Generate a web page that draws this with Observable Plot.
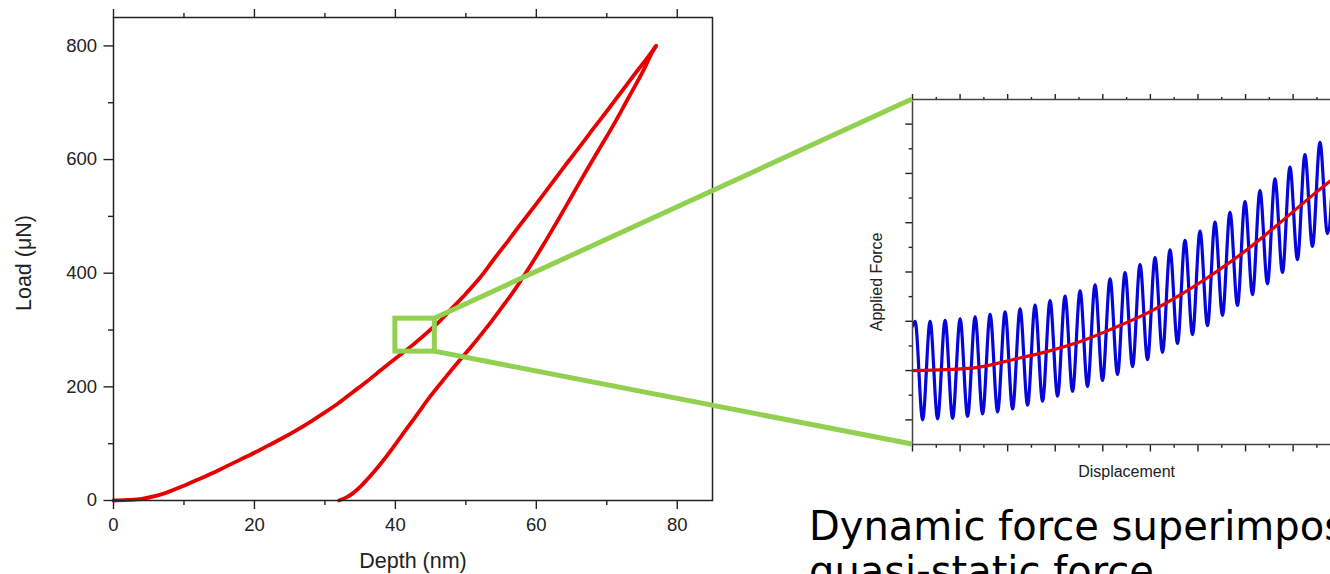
<!DOCTYPE html>
<html><head><meta charset="utf-8">
<script src="https://cdn.jsdelivr.net/npm/d3@7"></script>
<script src="https://cdn.jsdelivr.net/npm/@observablehq/plot@0.6"></script>
<style>
html,body{margin:0;padding:0;overflow:hidden;background:#fff;}
#stage{position:relative;width:1330px;height:574px;overflow:hidden;background:#fff;}
#left,#right,#overlay,#caption{position:absolute;}
#left{left:0;top:0;width:730px;height:574px}
#right{left:820px;top:0;width:560px;height:574px}
#left svg,#right svg{max-width:none !important;}
#overlay{left:0;top:0;pointer-events:none}
#caption{left:809px;top:504px;font-family:"DejaVu Sans",Verdana,sans-serif;font-size:40px;line-height:45px;white-space:nowrap;color:#000}
</style></head><body>
<div id="stage"><div id="left"></div><div id="right"></div><svg id="overlay" width="1330" height="574"></svg><div id="caption">Dynamic force superimposed on<br>quasi-static force</div></div>
<script>
// ---- Left chart: load-depth curve ----
const loadDepth = [0,2,4,6,8,10,12,14,16,18,20,22,24,26,28,30,32,34,36,38,40,42,44,46,48,50,52,54,56,58,60,62,64,66,68,70,72,74,76,77];
const loadForce = [0,1,3,8,16,26,37,48,60,72,84,97,110,124,139,155,172,191,210,230,250,269,290,312,338,364,392,425,457,490,522,555,588,620,653,685,718,751,783,800];
const unloadDepth = [77,76.5,75,73,71,69,67,65,63,61,59,57,55,53,51,49,47,45,43,41,39,38,37,36,35,34,33,32];
const unloadForce = [800,790,752,707,662,620,578,535,492,450,410,372,338,305,274,245,215,184,150,116,82,66,51,37,24,13,5,0];
const depthDomain = [0,85];
const loadDomain = [0,850];
const depthMajor = [0,20,40,60,80];
const depthMinor = [10,30,50,70];
const loadMajor = [0,200,400,600,800];
const loadMinor = [100,300,500,700];
const zoomDepth = [40,45.6];
const zoomLoad = [262,320];

// ---- Right chart: dynamic + quasi-static force ----
const dispDomain = [0,9.5];
const forceDomain = [-0.5,6.5];
const dispMajor = [0,1,2,3,4,5,6,7,8,9];
const dispMinor = [0.5,1.5,2.5,3.5,4.5,5.5,6.5,7.5,8.5];
const forceMajor = [0,1,2,3,4,5,6];
const forceMinor = [0.5,1.5,2.5,3.5,4.5,5.5];
const quasiX = [0,0.7,1.4,2.1,2.8,3.5,4.2,4.9,5.6,6.3,7.0,7.7,8.4,9.1,9.8];
const quasiF = [1.0,1.02,1.07,1.22,1.38,1.58,1.85,2.15,2.52,2.95,3.43,3.98,4.55,5.1,5.7];
const startX = [0];
const startF = [1.9];
const peakX = [0.055,0.370,0.685,1.001,1.316,1.631,1.946,2.261,2.576,2.891,3.206,3.522,3.837,4.152,4.467,4.782,5.097,5.412,5.727,6.043,6.358,6.673,6.988,7.303,7.618,7.933,8.248,8.564,8.879];
const peakF = [2.00,2.00,2.02,2.05,2.09,2.14,2.19,2.25,2.33,2.42,2.51,2.62,2.74,2.86,2.99,3.15,3.29,3.45,3.64,3.83,4.01,4.21,4.43,4.65,4.89,5.13,5.38,5.63,5.9];
const troughX = [0.213,0.528,0.843,1.158,1.473,1.789,2.104,2.419,2.734,3.049,3.364,3.679,3.994,4.309,4.625,4.940,5.255,5.570,5.885,6.200,6.515,6.830,7.146,7.461,7.776,8.091,8.406,8.721];
const troughF = [0.00,0.02,0.03,0.07,0.12,0.16,0.22,0.30,0.38,0.48,0.58,0.68,0.80,0.92,1.08,1.22,1.37,1.55,1.73,1.91,2.12,2.32,2.54,2.76,2.99,3.25,3.52,3.78];

const RED = "#e60000", BLUE = "#0505dc", GREEN = "#92d050", INK = "#222";
const SANS = '"Liberation Sans", Arial, Helvetica, sans-serif';
const blank = () => "";

const loading = loadDepth.map((d, i) => ({depth: d, load: loadForce[i]}));
const unloading = unloadDepth.map((d, i) => ({depth: d, load: unloadForce[i]}));
const zoomBox = [{x1: zoomDepth[0], x2: zoomDepth[1], y1: zoomLoad[0], y2: zoomLoad[1]}];

const left = Plot.plot({
  width: 730, height: 574,
  marginLeft: 113, marginRight: 18, marginTop: 17, marginBottom: 74,
  x: {domain: depthDomain},
  y: {domain: loadDomain},
  style: {fontFamily: SANS, fontSize: "18.5px", color: INK, background: "transparent", overflow: "visible", maxWidth: "none"},
  marks: [
    Plot.line(loading, {x: "depth", y: "load", stroke: RED, strokeWidth: 3.8, curve: "catmull-rom"}),
    Plot.line(unloading, {x: "depth", y: "load", stroke: RED, strokeWidth: 3.8, curve: "catmull-rom"}),
    Plot.axisX({ticks: depthMajor, anchor: "bottom", tickSize: 9, tickPadding: 8, label: null, strokeWidth: 1.4}),
    Plot.axisX({ticks: depthMinor, anchor: "bottom", tickSize: 5, tickFormat: blank, label: null, strokeWidth: 1.4}),
    Plot.axisX({ticks: depthMajor, anchor: "top", tickSize: 9, tickFormat: blank, label: null, strokeWidth: 1.4}),
    Plot.axisX({ticks: depthMinor, anchor: "top", tickSize: 5, tickFormat: blank, label: null, strokeWidth: 1.4}),
    Plot.axisY({ticks: loadMajor, anchor: "left", tickSize: 9.5, tickPadding: 7, label: null, strokeWidth: 1.4}),
    Plot.axisY({ticks: loadMinor, anchor: "left", tickSize: 5, tickFormat: blank, label: null, strokeWidth: 1.4}),
    Plot.frame({stroke: INK, strokeWidth: 1.5}),
    Plot.rect(zoomBox, {x1: "x1", x2: "x2", y1: "y1", y2: "y2", fill: "none", stroke: GREEN, strokeWidth: 5}),
    Plot.text(["Depth (nm)"], {frameAnchor: "bottom", dy: 67, lineAnchor: "bottom", textAnchor: "middle", fontSize: 21.5, fill: INK}),
    Plot.text(["Load (μN)"], {frameAnchor: "left", dx: -83, dy: 4, rotate: -90, lineAnchor: "bottom", textAnchor: "middle", fontSize: 21.5, fill: INK})
  ]
});
document.getElementById("left").appendChild(left);

// right chart data tables
const quasi = quasiX.map((x, i) => ({x, f: quasiF[i]}));
const dynamic = []
  .concat(startX.map((x, i) => ({x, f: startF[i]})))
  .concat(peakX.map((x, i) => ({x, f: peakF[i]})))
  .concat(troughX.map((x, i) => ({x, f: troughF[i]})))
  .sort((a, b) => a.x - b.x);

const right = Plot.plot({
  width: 560, height: 574,
  marginLeft: 92, marginRight: 16, marginTop: 99, marginBottom: 130,
  x: {domain: dispDomain},
  y: {domain: forceDomain},
  style: {fontFamily: SANS, fontSize: "16px", color: INK, background: "transparent", overflow: "visible", maxWidth: "none"},
  marks: [
    Plot.line(dynamic, {x: "x", y: "f", stroke: BLUE, strokeWidth: 3.2, curve: "monotone-x", clip: true}),
    Plot.line(quasi, {x: "x", y: "f", stroke: RED, strokeWidth: 3.2, curve: "monotone-x", clip: true}),
    Plot.axisX({ticks: dispMajor, anchor: "bottom", tickSize: 7.5, tickFormat: blank, label: null, strokeWidth: 1.4}),
    Plot.axisX({ticks: dispMinor, anchor: "bottom", tickSize: 3.7, tickFormat: blank, label: null, strokeWidth: 1.4}),
    Plot.axisX({ticks: dispMajor, anchor: "top", tickSize: 6, tickFormat: blank, label: null, strokeWidth: 1.4}),
    Plot.axisX({ticks: dispMinor, anchor: "top", tickSize: 3, tickFormat: blank, label: null, strokeWidth: 1.4}),
    Plot.axisY({ticks: forceMajor, anchor: "left", tickSize: 6.7, tickFormat: blank, label: null, strokeWidth: 1.4}),
    Plot.axisY({ticks: forceMinor, anchor: "left", tickSize: 3.3, tickFormat: blank, label: null, strokeWidth: 1.4}),
    Plot.frame({stroke: "#444", strokeWidth: 1.5}),
    Plot.text(["Displacement"], {x: [4.5], frameAnchor: "bottom", dy: 32, lineAnchor: "bottom", textAnchor: "middle", fontSize: 16, fill: INK}),
    Plot.text(["Applied Force"], {y: [2.8], frameAnchor: "left", dx: -31, rotate: -90, lineAnchor: "bottom", textAnchor: "middle", fontSize: 16, fill: INK})
  ]
});
document.getElementById("right").appendChild(right);

// connectors from the zoom box to the inset frame, computed from both plots' scales
const lx = left.scale("x"), ly = left.scale("y");
const rx = right.scale("x"), ry = right.scale("y");
const rightLeft = 820;
const links = [
  [lx.apply(zoomDepth[1]), ly.apply(zoomLoad[1]), rightLeft + rx.apply(dispDomain[0]), ry.apply(forceDomain[1])],
  [lx.apply(zoomDepth[1]), ly.apply(zoomLoad[0]), rightLeft + rx.apply(dispDomain[0]), ry.apply(forceDomain[0])]
];
d3.select("#overlay").selectAll("line").data(links).join("line")
  .attr("x1", d => d[0]).attr("y1", d => d[1])
  .attr("x2", d => d[2]).attr("y2", d => d[3])
  .attr("stroke", GREEN).attr("stroke-width", 5).attr("stroke-linecap", "butt");
</script>
</body></html>
